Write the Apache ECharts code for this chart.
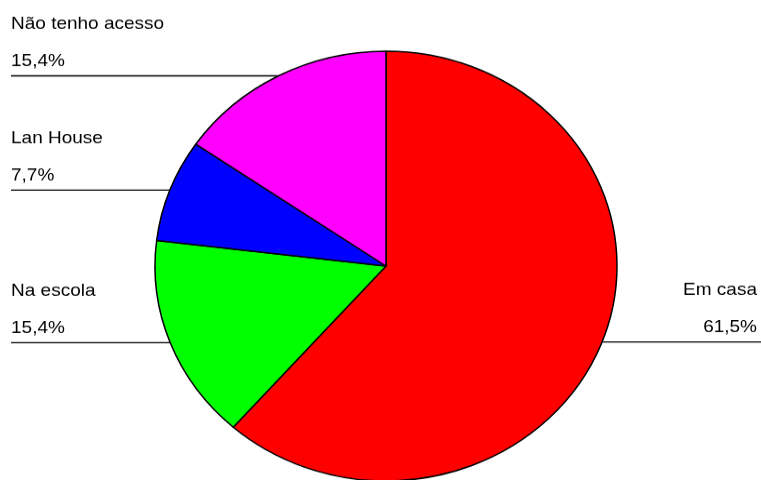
<!DOCTYPE html>
<html>
<head>
<meta charset="utf-8">
<script src="https://cdn.jsdelivr.net/npm/echarts@6/dist/echarts.min.js"></script>
<style>
html, body { margin: 0; padding: 0; overflow: hidden; background: #fff; width: 761px; height: 480px; }
#c { width: 761px; height: 516px; transform: scaleY(0.9302); transform-origin: 0 0; }
</style>
</head>
<body>
<div id="c"></div>
<script>
// Data
const categories = ['Em casa', 'Na escola', 'Lan House', 'Não tenho acesso'];
const values = [61.5, 15.4, 7.7, 15.4];
const colors = ['#FF0000', '#00FF00', '#0000FF', '#FF00FF'];

const chart = echarts.init(document.getElementById('c'), null, { renderer: 'canvas' });

const data = categories.map((name, i) => ({
  name: name,
  value: values[i],
  itemStyle: { color: colors[i] }
}));

const LEFT_X = 11;
const RIGHT_TEXT_X = 757;
const RIGHT_LINE_X = 761;
const FONT = 'Liberation Sans, Arial, sans-serif';

chart.setOption({
  backgroundColor: '#ffffff',
  animation: false,
  series: [{
    type: 'pie',
    center: [386, 286],
    radius: 231,
    startAngle: 90,
    clockwise: true,
    avoidLabelOverlap: false,
    percentPrecision: 1,
    data: data,
    itemStyle: { borderColor: '#000', borderWidth: 1.5 },
    emphasis: { disabled: true },
    label: {
      show: true,
      position: 'outside',
      color: '#000',
      fontFamily: FONT,
      fontSize: 19,
      formatter: function (p) {
        return '{n|' + p.name + '}\n{p|' + p.percent.toFixed(1).replace('.', ',') + '%}';
      },
      rich: {
        n: { fontSize: 19, lineHeight: 50, color: '#000', fontFamily: FONT },
        p: { fontSize: 19, lineHeight: 31, color: '#000', fontFamily: FONT }
      }
    },
    labelLine: {
      show: true,
      length: 5,
      length2: 10,
      smooth: false,
      lineStyle: { color: '#000', width: 1.3 }
    },
    labelLayout: function (p) {
      const pts = p.labelLinePoints;
      if (!pts || !pts.length) return {};
      const sx = pts[0][0];
      const sy = pts[0][1];
      const toRight = pts[pts.length - 1][0] > sx;
      if (toRight) {
        return {
          x: RIGHT_TEXT_X, y: sy, align: 'right', verticalAlign: 'bottom',
          labelLinePoints: [[sx, sy], [sx, sy], [RIGHT_LINE_X, sy]]
        };
      }
      return {
        x: LEFT_X, y: sy, align: 'left', verticalAlign: 'bottom',
        labelLinePoints: [[sx, sy], [sx, sy], [LEFT_X, sy]]
      };
    }
  }]
});
</script>
</body>
</html>
